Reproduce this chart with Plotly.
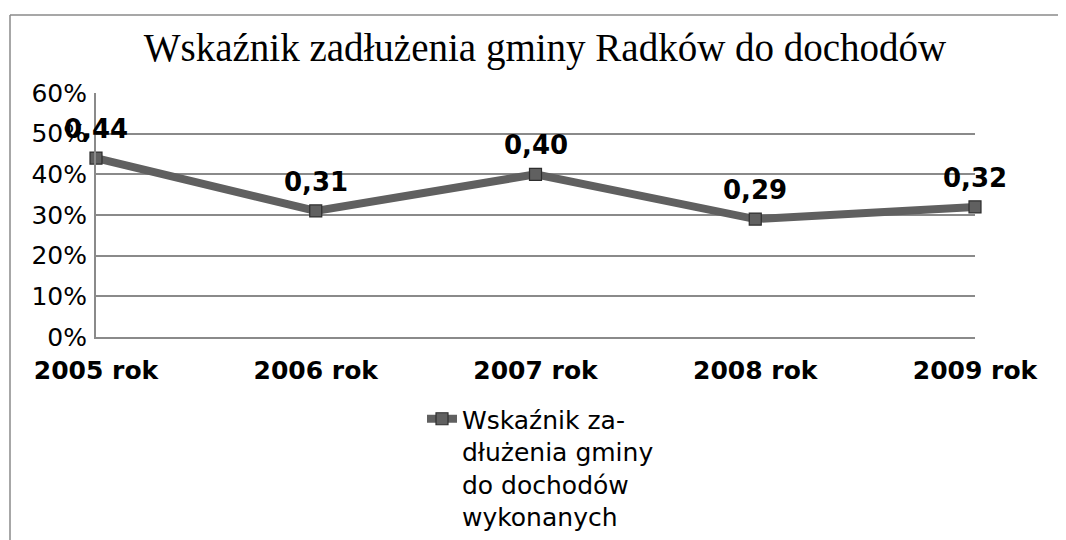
import plotly.graph_objects as go

# Data
categories = ["2005 rok", "2006 rok", "2007 rok", "2008 rok", "2009 rok"]
values = [0.44, 0.31, 0.40, 0.29, 0.32]
value_labels = [f"{v:.2f}".replace(".", ",") for v in values]
series_name = "Wskaźnik za-<br>dłużenia gminy<br>do dochodów<br>wykonanych"
title_text = "Wskaźnik zadłużenia gminy Radków do dochodów"

# The page body adds an 8px offset; work in page pixels and convert.
OFF = 8
PAGE_W, PAGE_H = 1066, 540
W, H = PAGE_W - OFF, PAGE_H - OFF
PL, PR, PT, PB = 96, 975, 93, 337  # plot area in page pixels
ML, MT = PL - OFF, PT - OFF
MR, MB = PAGE_W - PR, PAGE_H - PB
PW, PH = PR - PL, PB - PT

def px_to_paper_x(px):
    return (px - PL) / PW

def px_to_paper_y(py):
    return (PB - py) / PH

fig = go.Figure()
fig.add_trace(go.Scatter(
    x=categories, y=values, mode="lines+markers", name=series_name,
    line=dict(color="#606060", width=8),
    marker=dict(symbol="square", size=12, color="#606060",
                line=dict(color="#2e2e2e", width=1.2)),
    showlegend=True, cliponaxis=False,
))

for c, v, t in zip(categories, values, value_labels):
    fig.add_annotation(x=c, y=v, text=f"<b>{t}</b>", showarrow=False,
                       yanchor="middle", yshift=29,
                       font=dict(family="DejaVu Sans", size=26, color="black"))

frame_color = "#8a8a8a"
fig.add_shape(type="line", xref="paper", yref="paper",
              x0=px_to_paper_x(10), x1=px_to_paper_x(PAGE_W + 5),
              y0=px_to_paper_y(15), y1=px_to_paper_y(15),
              line=dict(color=frame_color, width=1.5))
fig.add_shape(type="line", xref="paper", yref="paper",
              x0=px_to_paper_x(10), x1=px_to_paper_x(10),
              y0=px_to_paper_y(15), y1=px_to_paper_y(PAGE_H + 5),
              line=dict(color=frame_color, width=1.5))

fig.update_layout(
    width=W, height=H,
    margin=dict(l=ML, r=MR, t=MT, b=MB, autoexpand=False),
    paper_bgcolor="white", plot_bgcolor="white",
    title=dict(text=title_text, x=(545 - OFF) / W, xanchor="center",
               y=1 - (47 - OFF) / H, yanchor="middle", yref="container",
               font=dict(family="Liberation Serif", size=39, color="black")),
    font=dict(family="DejaVu Sans", color="black"),
    xaxis=dict(type="category", range=[0, len(categories) - 1],
               showgrid=False, showline=True, linecolor=frame_color, linewidth=2,
               ticks="", tickfont=dict(family="DejaVu Sans", size=25, color="black"),
               tickprefix="<b>", ticksuffix="</b>",
               ticklabelstandoff=10, zeroline=False),
    yaxis=dict(range=[0, 0.6], dtick=0.1, tick0=0, tickformat=".0%",
               showgrid=True, gridcolor=frame_color, gridwidth=1.5,
               showline=True, linecolor=frame_color, linewidth=2,
               ticks="", tickfont=dict(family="DejaVu Sans", size=25, color="black"),
               ticklabelstandoff=2, zeroline=False),
    legend=dict(xref="container", yref="container",
                x=(422 - OFF) / W, xanchor="left",
                y=1 - (396 - OFF) / H, yanchor="top",
                valign="top", bgcolor="rgba(0,0,0,0)",
                font=dict(family="DejaVu Sans", size=25, color="black")),
)

fig.write_html("out.html")
